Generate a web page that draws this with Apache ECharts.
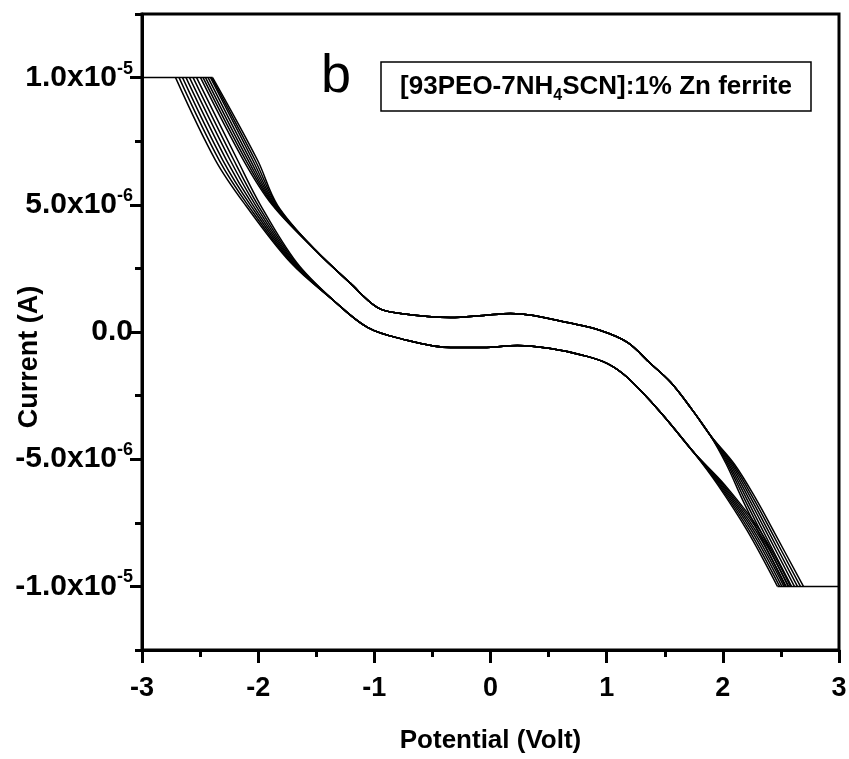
<!DOCTYPE html>
<html>
<head>
<meta charset="utf-8">
<script src="https://cdn.jsdelivr.net/npm/echarts@6/dist/echarts.min.js"></script>
<style>
  html, body { margin: 0; padding: 0; background: #fff; }
  #chart { width: 849px; height: 759px; }
</style>
</head>
<body>
<div id="chart"></div>
<script>
// current values are in units of 1e-6 A

// x ticks
let xTicks = [-3, -2, -1, 0, 1, 2, 3];

// y ticks (1e-6 A) and their labels
let yTickVals = [-10, -5, 0, 5, 10];
let yTickMant = ['-1.0x10', '-5.0x10', '0.0', '5.0x10', '1.0x10'];
let yTickExp  = ['-5', '-6', '', '-6', '-5'];

// compliance limit, current is clipped here
let iLimit = 10;

// ---- forward sweep (lower branch), one value per cycle ----
let lowStartX = [-2.711, -2.681, -2.651, -2.621, -2.591, -2.560, -2.530];   // at I = 10
let lowX675   = [-2.367, -2.335, -2.304, -2.272, -2.240, -2.209, -2.177];   // at I = 6.75
let lowX498   = [-2.108, -2.087, -2.065, -2.044, -2.022, -2.001, -1.979];   // at I = 4.98
let lowX273   = [-1.721, -1.713, -1.704, -1.695, -1.687, -1.678, -1.669];   // at I = 2.73
// common middle part
let lowMidX = [-1.351, -1.059, -0.775, -0.344, -0.060, 0.232, 0.516, 0.800, 1.007, 1.179, 1.463, 1.747];
let lowMidI = [1.24, 0.18, -0.26, -0.61, -0.61, -0.53, -0.65, -0.92, -1.24, -1.79, -3.15, -4.72];
let lowXm600  = [1.955, 1.965, 1.975, 1.985, 1.995, 2.005, 2.015];          // at I = -6.0
let lowXm781  = [2.210, 2.228, 2.247, 2.265, 2.283, 2.302, 2.320];          // at I = -7.81
let lowEndX   = [2.470, 2.489, 2.508, 2.526, 2.545, 2.564, 2.582];          // at I = -10

// ---- reverse sweep (upper branch) ----
let upEndX    = [2.539, 2.565, 2.591, 2.616, 2.642, 2.668, 2.694];          // at I = -10
let upXm781   = [2.300, 2.323, 2.345, 2.368, 2.390, 2.413, 2.435];          // at I = -7.81
let upXm660   = [2.170, 2.190, 2.210, 2.230, 2.250, 2.270, 2.290];          // at I = -6.6
let upXm520   = [2.030, 2.042, 2.053, 2.065, 2.077, 2.088, 2.100];          // at I = -5.2
let upMidX = [1.893, 1.735, 1.549, 1.377, 1.179, 0.947, 0.663, 0.370, 0.172, -0.060, -0.344, -0.775, -0.972, -1.205, -1.506];
let upMidI = [-4.07, -3.05, -1.97, -1.24, -0.41, 0.06, 0.37, 0.65, 0.73, 0.65, 0.57, 0.73, 0.96, 1.91, 3.21];
let upX498    = [-1.876, -1.869, -1.862, -1.855, -1.848, -1.840, -1.833];   // at I = 4.98
let upX675    = [-2.126, -2.106, -2.086, -2.066, -2.046, -2.026, -2.005];   // at I = 6.75
let upStartX  = [-2.496, -2.474, -2.453, -2.431, -2.410, -2.401, -2.392];   // at I = 10

let lineColor = '#000';
let lineW = 1.5;

function buildSeries(){
    let series = [];

    for (let c = 0; c < lowStartX.length; c++){
        let low = [];
        low.push([lowStartX[c], iLimit]);
        low.push([lowX675[c], 6.75]);
        low.push([lowX498[c], 4.98]);
        low.push([lowX273[c], 2.73]);
        for (let k = 0; k < lowMidX.length; k++){
            low.push([lowMidX[k], lowMidI[k]]);
        }
        low.push([lowXm600[c], -6.0]);
        low.push([lowXm781[c], -7.81]);
        low.push([lowEndX[c], -iLimit]);

        let up = [];
        up.push([upEndX[c], -iLimit]);
        up.push([upXm781[c], -7.81]);
        up.push([upXm660[c], -6.6]);
        up.push([upXm520[c], -5.2]);
        for (let k = 0; k < upMidX.length; k++){
            up.push([upMidX[k], upMidI[k]]);
        }
        up.push([upX498[c], 4.98]);
        up.push([upX675[c], 6.75]);
        up.push([upStartX[c], iLimit]);

        series.push({
            type: 'line', data: low, smooth: 0.35, showSymbol: false,
            lineStyle: { color: lineColor, width: lineW }, silent: true
        });
        series.push({
            type: 'line', data: up, smooth: 0.35, showSymbol: false,
            lineStyle: { color: lineColor, width: lineW }, silent: true
        });
    }

    // clipped parts at the compliance limit
    series.push({
        type: 'line', data: [[-3, iLimit], [Math.max(...upStartX), iLimit]], showSymbol: false,
        lineStyle: { color: lineColor, width: lineW }, silent: true
    });
    series.push({
        type: 'line', data: [[Math.min(...lowEndX), -iLimit], [3, -iLimit]], showSymbol: false,
        lineStyle: { color: lineColor, width: lineW }, silent: true
    });
    return series;
}

let fontFam = 'Arial, "Liberation Sans", sans-serif';

let myChart = echarts.init(document.getElementById('chart'));

let option = {
    backgroundColor: '#fff',
    animation: false,
    grid: {
        left: 142, right: 10, top: 14, bottom: 109,
        containLabel: false, outerBoundsMode: 'none',
        show: true, borderColor: '#000', borderWidth: 3, backgroundColor: 'transparent'
    },
    xAxis: [
        {
            type: 'value', position: 'bottom', min: -3, max: 3, interval: 1,
            name: 'Potential (Volt)', nameLocation: 'middle', nameGap: 78, nameMoveOverlap: false,
            nameTextStyle: { fontFamily: fontFam, fontWeight: 'bold', fontSize: 26, color: '#000' },
            axisLine: { show: true, onZero: false, lineStyle: { color: '#000', width: 3 } },
            axisTick: { show: true, length: 13, lineStyle: { color: '#000', width: 3 } },
            axisLabel: {
                margin: 25, fontFamily: fontFam, fontWeight: 'bold', fontSize: 27, color: '#000',
                formatter: function (v) { return xTicks.indexOf(v) >= 0 ? String(v) : ''; }
            },
            splitLine: { show: false }
        },
        {
            type: 'value', position: 'bottom', min: -3, max: 3, interval: 0.5,
            axisLine: { show: false, onZero: false },
            axisTick: { show: true, length: 7, lineStyle: { color: '#000', width: 3 } },
            axisLabel: { show: false },
            splitLine: { show: false }
        }
    ],
    yAxis: [
        {
            type: 'value', position: 'left', min: -12.5, max: 12.5,
            axisLine: { show: true, onZero: false, lineStyle: { color: '#000', width: 3 } },
            axisTick: { show: true, length: 12, customValues: yTickVals, lineStyle: { color: '#000', width: 3 } },
            axisLabel: {
                margin: 9, customValues: yTickVals,
                formatter: function (v) {
                    let i = yTickVals.indexOf(v);
                    if (i < 0) return '';
                    if (yTickExp[i] === '') return '{m|' + yTickMant[i] + '}';
                    return '{m|' + yTickMant[i] + '}{e|' + yTickExp[i] + '}';
                },
                rich: {
                    m: { fontFamily: fontFam, fontWeight: 'bold', fontSize: 30, color: '#000' },
                    e: { fontFamily: fontFam, fontWeight: 'bold', fontSize: 18, color: '#000', padding: [0, 0, 18, 0] }
                }
            },
            splitLine: { show: false }
        },
        {
            type: 'value', position: 'left', min: -12.5, max: 12.5, interval: 2.5,
            axisLine: { show: false, onZero: false },
            axisTick: { show: true, length: 7, lineStyle: { color: '#000', width: 3 } },
            axisLabel: { show: false },
            splitLine: { show: false }
        }
    ],
    graphic: [
        {
            type: 'text', x: 30, y: 357, rotation: Math.PI / 2,
            style: {
                text: 'Current (A)', align: 'center', verticalAlign: 'middle',
                fontFamily: fontFam, fontWeight: 'bold', fontSize: 27, fill: '#000'
            }
        },
        {
            type: 'text', left: 321, top: 50,
            style: { text: 'b', fontFamily: fontFam, fontSize: 54, fill: '#000' }
        },
        {
            type: 'rect', shape: { x: 381, y: 62, width: 430, height: 49 },
            style: { fill: '#fff', stroke: '#000', lineWidth: 1.5 }
        },
        {
            type: 'text', x: 596, y: 87,
            style: {
                text: '{t|[93PEO-7NH}{s|4}{t|SCN]:1% Zn ferrite}',
                align: 'center', verticalAlign: 'middle',
                rich: {
                    t: { fontFamily: fontFam, fontWeight: 'bold', fontSize: 26, fill: '#000' },
                    s: { fontFamily: fontFam, fontWeight: 'bold', fontSize: 16, fill: '#000', padding: [18, 0, 0, 0] }
                }
            }
        }
    ],
    series: buildSeries()
};

myChart.setOption(option);
</script>
</body>
</html>
